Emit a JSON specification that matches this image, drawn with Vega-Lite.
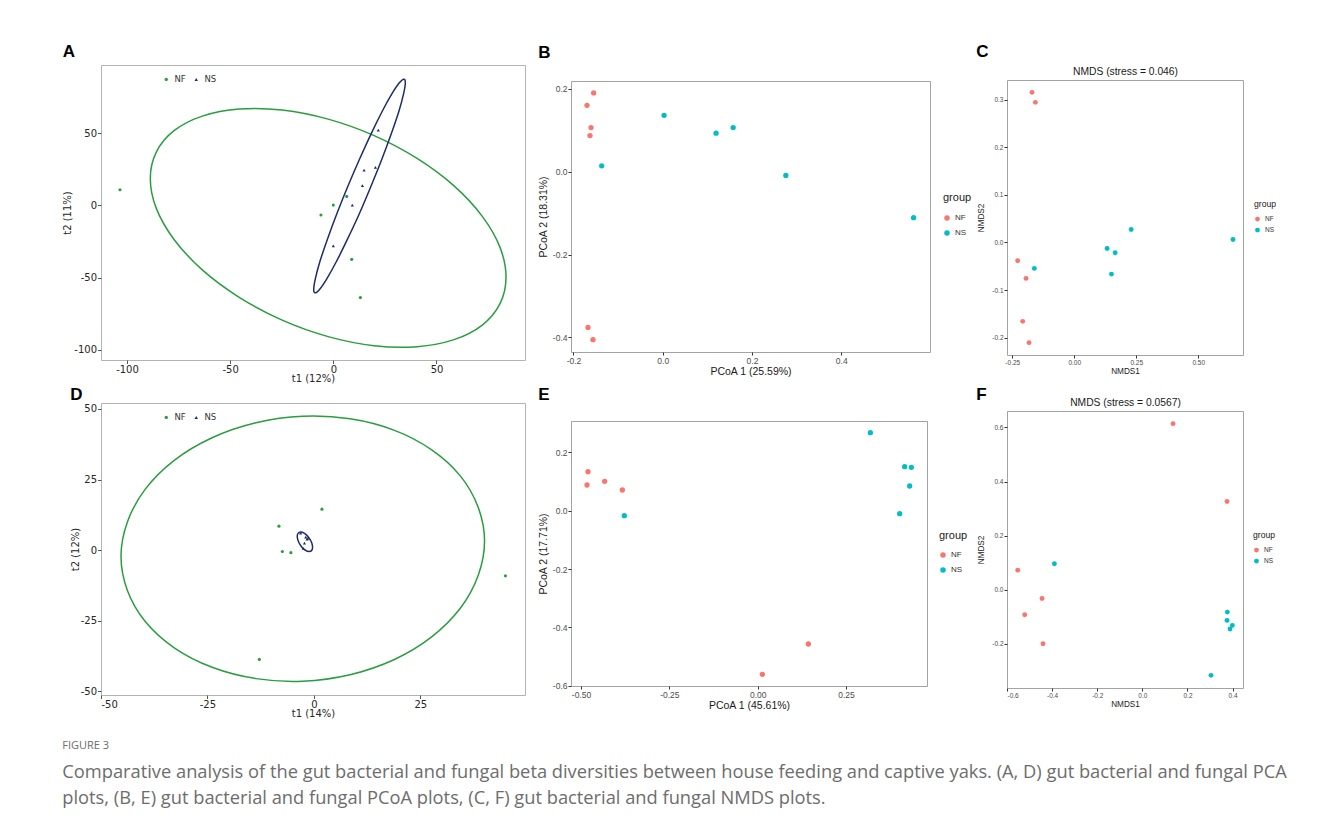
{
  "$schema": "https://vega.github.io/schema/vega-lite/v6.json",
  "background": "white",
  "padding": {"left": 62, "top": 42, "right": 10, "bottom": 10},
  "title": {
    "text": "FIGURE 3",
    "subtitle": [
      "Comparative analysis of the gut bacterial and fungal beta diversities between house feeding and captive yaks. (A, D) gut bacterial and fungal PCA",
      "plots, (B, E) gut bacterial and fungal PCoA plots, (C, F) gut bacterial and fungal NMDS plots."
    ],
    "orient": "bottom",
    "anchor": "start",
    "font": "Open Sans",
    "fontSize": 11,
    "fontWeight": "normal",
    "color": "#6d6d6d",
    "subtitleFont": "Open Sans",
    "subtitleFontSize": 18.3,
    "subtitleColor": "#6d6d6d",
    "subtitleLineHeight": 26,
    "subtitlePadding": 13,
    "offset": 21
  },
  "datasets": {
    "A_pts": [
      {"group": "NF", "x": -103.4, "y": 10.8},
      {"group": "NF", "x": 0, "y": 0.2},
      {"group": "NF", "x": 6.5, "y": 6.2},
      {"group": "NF", "x": -6.0, "y": -6.7},
      {"group": "NF", "x": 8.9, "y": -37.4},
      {"group": "NF", "x": 13.1, "y": -63.9},
      {"group": "NS", "x": 21.8, "y": 52.1},
      {"group": "NS", "x": 14.9, "y": 24.4},
      {"group": "NS", "x": 20.4, "y": 26.3},
      {"group": "NS", "x": 14.1, "y": 13.6},
      {"group": "NS", "x": 9.2, "y": 0.2},
      {"group": "NS", "x": 0, "y": -28.0}
    ],
    "A_ell": [
      {"group": "NF", "i": 0, "x": 83.7, "y": -49.8},
      {"group": "NF", "i": 1, "x": 80.8, "y": -29.1},
      {"group": "NF", "i": 2, "x": 72.2, "y": -7.6},
      {"group": "NF", "i": 3, "x": 58.5, "y": 13.5},
      {"group": "NF", "i": 4, "x": 40.6, "y": 32.5},
      {"group": "NF", "i": 5, "x": 19.8, "y": 48.3},
      {"group": "NF", "i": 6, "x": -2.5, "y": 59.7},
      {"group": "NF", "i": 7, "x": -24.8, "y": 66.0},
      {"group": "NF", "i": 8, "x": -45.6, "y": 66.7},
      {"group": "NF", "i": 9, "x": -63.5, "y": 61.8},
      {"group": "NF", "i": 10, "x": -77.2, "y": 51.7},
      {"group": "NF", "i": 11, "x": -85.8, "y": 36.9},
      {"group": "NF", "i": 12, "x": -88.7, "y": 18.6},
      {"group": "NF", "i": 13, "x": -85.8, "y": -2.1},
      {"group": "NF", "i": 14, "x": -77.2, "y": -23.6},
      {"group": "NF", "i": 15, "x": -63.5, "y": -44.7},
      {"group": "NF", "i": 16, "x": -45.6, "y": -63.7},
      {"group": "NF", "i": 17, "x": -24.8, "y": -79.5},
      {"group": "NF", "i": 18, "x": -2.5, "y": -90.9},
      {"group": "NF", "i": 19, "x": 19.8, "y": -97.2},
      {"group": "NF", "i": 20, "x": 40.6, "y": -97.9},
      {"group": "NF", "i": 21, "x": 58.5, "y": -93.0},
      {"group": "NF", "i": 22, "x": 72.2, "y": -82.9},
      {"group": "NF", "i": 23, "x": 80.8, "y": -68.1},
      {"group": "NS", "i": 0, "x": 34.2, "y": 87.4},
      {"group": "NS", "i": 1, "x": 34.9, "y": 84.9},
      {"group": "NS", "i": 2, "x": 34.1, "y": 77.5},
      {"group": "NS", "i": 3, "x": 31.9, "y": 65.7},
      {"group": "NS", "i": 4, "x": 28.3, "y": 50.4},
      {"group": "NS", "i": 5, "x": 23.7, "y": 32.6},
      {"group": "NS", "i": 6, "x": 18.3, "y": 13.4},
      {"group": "NS", "i": 7, "x": 12.6, "y": -5.8},
      {"group": "NS", "i": 8, "x": 6.8, "y": -23.6},
      {"group": "NS", "i": 9, "x": 1.5, "y": -38.9},
      {"group": "NS", "i": 10, "x": -3.1, "y": -50.7},
      {"group": "NS", "i": 11, "x": -6.6, "y": -58.1},
      {"group": "NS", "i": 12, "x": -8.8, "y": -60.6},
      {"group": "NS", "i": 13, "x": -9.5, "y": -58.1},
      {"group": "NS", "i": 14, "x": -8.7, "y": -50.7},
      {"group": "NS", "i": 15, "x": -6.5, "y": -38.9},
      {"group": "NS", "i": 16, "x": -2.9, "y": -23.6},
      {"group": "NS", "i": 17, "x": 1.7, "y": -5.8},
      {"group": "NS", "i": 18, "x": 7.1, "y": 13.4},
      {"group": "NS", "i": 19, "x": 12.9, "y": 32.6},
      {"group": "NS", "i": 20, "x": 18.6, "y": 50.4},
      {"group": "NS", "i": 21, "x": 23.9, "y": 65.7},
      {"group": "NS", "i": 22, "x": 28.5, "y": 77.5},
      {"group": "NS", "i": 23, "x": 32.0, "y": 84.9}
    ],
    "D_pts": [
      {"group": "NF", "x": -8.2, "y": 8.5},
      {"group": "NF", "x": 1.9, "y": 14.5},
      {"group": "NF", "x": -7.4, "y": -0.5},
      {"group": "NF", "x": -5.4, "y": -0.9},
      {"group": "NF", "x": -12.8, "y": -38.7},
      {"group": "NF", "x": 45.0, "y": -9.1},
      {"group": "NS", "x": -3.1, "y": 6.0},
      {"group": "NS", "x": -1.9, "y": 4.6},
      {"group": "NS", "x": -1.6, "y": 3.9},
      {"group": "NS", "x": -1.4, "y": 4.2},
      {"group": "NS", "x": -2.5, "y": 0.6},
      {"group": "NS", "x": -2.2, "y": 2.5}
    ],
    "D_ell": [
      {"group": "NF", "i": 0, "x": 40.1, "y": 3.2},
      {"group": "NF", "i": 1, "x": 38.6, "y": 15.2},
      {"group": "NF", "i": 2, "x": 34.4, "y": 26.3},
      {"group": "NF", "i": 3, "x": 27.6, "y": 35.6},
      {"group": "NF", "i": 4, "x": 18.8, "y": 42.5},
      {"group": "NF", "i": 5, "x": 8.5, "y": 46.5},
      {"group": "NF", "i": 6, "x": -2.6, "y": 47.4},
      {"group": "NF", "i": 7, "x": -13.6, "y": 45.1},
      {"group": "NF", "i": 8, "x": -23.9, "y": 39.8},
      {"group": "NF", "i": 9, "x": -32.8, "y": 31.8},
      {"group": "NF", "i": 10, "x": -39.6, "y": 21.6},
      {"group": "NF", "i": 11, "x": -43.8, "y": 10.0},
      {"group": "NF", "i": 12, "x": -45.3, "y": -2.2},
      {"group": "NF", "i": 13, "x": -43.8, "y": -14.3},
      {"group": "NF", "i": 14, "x": -39.6, "y": -25.3},
      {"group": "NF", "i": 15, "x": -32.8, "y": -34.6},
      {"group": "NF", "i": 16, "x": -23.9, "y": -41.5},
      {"group": "NF", "i": 17, "x": -13.6, "y": -45.5},
      {"group": "NF", "i": 18, "x": -2.6, "y": -46.4},
      {"group": "NF", "i": 19, "x": 8.5, "y": -44.1},
      {"group": "NF", "i": 20, "x": 18.8, "y": -38.8},
      {"group": "NF", "i": 21, "x": 27.6, "y": -30.8},
      {"group": "NF", "i": 22, "x": 34.4, "y": -20.6},
      {"group": "NF", "i": 23, "x": 38.6, "y": -9.0},
      {"group": "NS", "i": 0, "x": -3.1, "y": 6.4},
      {"group": "NS", "i": 1, "x": -2.2, "y": 5.94},
      {"group": "NS", "i": 2, "x": -1.3, "y": 4.68},
      {"group": "NS", "i": 3, "x": -0.6, "y": 2.95},
      {"group": "NS", "i": 4, "x": -0.3, "y": 1.23},
      {"group": "NS", "i": 5, "x": -0.48, "y": -0.04},
      {"group": "NS", "i": 6, "x": -1.1, "y": -0.5},
      {"group": "NS", "i": 7, "x": -1.98, "y": -0.04},
      {"group": "NS", "i": 8, "x": -2.9, "y": 1.23},
      {"group": "NS", "i": 9, "x": -3.6, "y": 2.95},
      {"group": "NS", "i": 10, "x": -3.9, "y": 4.68},
      {"group": "NS", "i": 11, "x": -3.72, "y": 5.94}
    ],
    "B": [
      {"group": "NF", "x": -0.1548, "y": 0.1904},
      {"group": "NF", "x": -0.1697, "y": 0.1606},
      {"group": "NF", "x": -0.1607, "y": 0.1068},
      {"group": "NF", "x": -0.163, "y": 0.0876},
      {"group": "NF", "x": -0.1675, "y": -0.3759},
      {"group": "NF", "x": -0.1563, "y": -0.4056},
      {"group": "NS", "x": 0.003, "y": 0.1365},
      {"group": "NS", "x": -0.1368, "y": 0.0145},
      {"group": "NS", "x": 0.1196, "y": 0.0932},
      {"group": "NS", "x": 0.1578, "y": 0.1068},
      {"group": "NS", "x": 0.2759, "y": -0.0088},
      {"group": "NS", "x": 0.5622, "y": -0.1108}
    ],
    "C": [
      {"group": "NF", "x": -0.1703, "y": 0.3154},
      {"group": "NF", "x": -0.1569, "y": 0.2944},
      {"group": "NF", "x": -0.2282, "y": -0.0385},
      {"group": "NF", "x": -0.1946, "y": -0.0755},
      {"group": "NF", "x": -0.208, "y": -0.1657},
      {"group": "NF", "x": -0.1824, "y": -0.2105},
      {"group": "NS", "x": -0.161, "y": -0.0545},
      {"group": "NS", "x": 0.1326, "y": -0.0126},
      {"group": "NS", "x": 0.1649, "y": -0.0217},
      {"group": "NS", "x": 0.2295, "y": 0.0273},
      {"group": "NS", "x": 0.1501, "y": -0.0664},
      {"group": "NS", "x": 0.6402, "y": 0.0063}
    ],
    "E": [
      {"group": "NF", "x": -0.4802, "y": 0.1337},
      {"group": "NF", "x": -0.483, "y": 0.088},
      {"group": "NF", "x": -0.433, "y": 0.1006},
      {"group": "NF", "x": -0.383, "y": 0.0709},
      {"group": "NF", "x": 0.0132, "y": -0.5611},
      {"group": "NF", "x": 0.1434, "y": -0.4571},
      {"group": "NS", "x": -0.3774, "y": -0.0171},
      {"group": "NS", "x": 0.3189, "y": 0.2674},
      {"group": "NS", "x": 0.416, "y": 0.1509},
      {"group": "NS", "x": 0.4349, "y": 0.1486},
      {"group": "NS", "x": 0.4302, "y": 0.0846},
      {"group": "NS", "x": 0.4019, "y": -0.0103}
    ],
    "F": [
      {"group": "NF", "x": 0.1359, "y": 0.6142},
      {"group": "NF", "x": 0.3752, "y": 0.3262},
      {"group": "NF", "x": -0.5524, "y": 0.0726},
      {"group": "NF", "x": -0.4446, "y": -0.032},
      {"group": "NF", "x": -0.5214, "y": -0.0923},
      {"group": "NF", "x": -0.4402, "y": -0.1994},
      {"group": "NS", "x": -0.39, "y": 0.096},
      {"group": "NS", "x": 0.3767, "y": -0.0825},
      {"group": "NS", "x": 0.3752, "y": -0.1132},
      {"group": "NS", "x": 0.3988, "y": -0.1317},
      {"group": "NS", "x": 0.3885, "y": -0.1452},
      {"group": "NS", "x": 0.3043, "y": -0.3163}
    ]
  },
  "spacing": 11,
  "resolve": {"scale": {"color": "independent", "shape": "independent"}, "legend": {"color": "independent", "shape": "independent"}},
  "hconcat": [
    {
      "vconcat": [
        {
          "title": {"text": "A", "anchor": "start", "font": "Liberation Sans", "fontSize": 17, "fontWeight": "bold", "color": "#000000", "offset": 4},
          "width": 424,
          "height": 295,
          "view": {"stroke": "#b3b3b3"},
          "layer": [
            {
              "mark": {"type": "rule", "color": "#555555", "strokeWidth": 1.2},
              "encoding": {"x": {"datum": 0, "type": "quantitative", "scale": {"domain": [-112.6, 92.9], "nice": false, "zero": false}}}
            },
            {
              "mark": {"type": "rule", "color": "#555555", "strokeWidth": 1.2},
              "encoding": {"y": {"datum": 0, "type": "quantitative", "scale": {"domain": [-107.1, 97.2], "nice": false, "zero": false}}}
            },
            {
              "data": {"name": "A_ell"},
              "transform": [{"filter": "datum.group == 'NF'"}],
              "mark": {"type": "line", "interpolate": "cardinal-closed", "strokeWidth": 1.5, "color": "#2a9d3f"},
              "encoding": {
                "x": {"field": "x", "type": "quantitative", "title": "t1 (12%)", "scale": {"domain": [-112.6, 92.9], "nice": false, "zero": false}},
                "y": {"field": "y", "type": "quantitative", "title": "t2 (11%)", "scale": {"domain": [-107.1, 97.2], "nice": false, "zero": false}},
                "order": {"field": "i", "type": "quantitative"}
              }
            },
            {
              "data": {"name": "A_ell"},
              "transform": [{"filter": "datum.group == 'NS'"}],
              "mark": {"type": "line", "interpolate": "cardinal-closed", "strokeWidth": 1.5, "color": "#1e2c6c"},
              "encoding": {
                "x": {"field": "x", "type": "quantitative", "title": "t1 (12%)", "scale": {"domain": [-112.6, 92.9], "nice": false, "zero": false}},
                "y": {"field": "y", "type": "quantitative", "title": "t2 (11%)", "scale": {"domain": [-107.1, 97.2], "nice": false, "zero": false}},
                "order": {"field": "i", "type": "quantitative"}
              }
            },
            {
              "data": {"name": "A_pts"},
              "mark": {"type": "point", "filled": true, "size": 10, "opacity": 1},
              "encoding": {
                "x": {"field": "x", "type": "quantitative", "title": "t1 (12%)", "scale": {"domain": [-112.6, 92.9], "nice": false, "zero": false},
                  "axis": {"values": [-100, -50, 0, 50], "labelFont": "DejaVu Sans", "titleFont": "DejaVu Sans", "labelFontSize": 10, "titleFontSize": 10, "labelColor": "#262626", "titleColor": "#262626", "tickColor": "#555555", "tickSize": 3.5, "labelPadding": 1, "titlePadding": -1}},
                "y": {"field": "y", "type": "quantitative", "title": "t2 (11%)", "scale": {"domain": [-107.1, 97.2], "nice": false, "zero": false},
                  "axis": {"values": [-100, -50, 0, 50], "labelFont": "DejaVu Sans", "titleFont": "DejaVu Sans", "labelFontSize": 10, "titleFontSize": 10, "labelColor": "#262626", "titleColor": "#262626", "tickColor": "#555555", "tickSize": 3.5, "labelPadding": 1, "titlePadding": 1}},
                "color": {"field": "group", "type": "nominal", "scale": {"domain": ["NF", "NS"], "range": ["#2a9d3f", "#1e2c6c"]},
                  "legend": {"title": null, "orient": "none", "legendX": 61, "legendY": 10, "direction": "horizontal", "labelFont": "DejaVu Sans", "labelFontSize": 8.5, "labelColor": "#333333", "symbolSize": 12, "columnPadding": 6}},
                "shape": {"field": "group", "type": "nominal", "scale": {"domain": ["NF", "NS"], "range": ["circle", "triangle-up"]}}
              }
            }
          ]
        },
        {
          "title": {"text": "D", "anchor": "start", "font": "Liberation Sans", "fontSize": 17, "fontWeight": "bold", "color": "#000000", "offset": -1},
          "width": 424,
          "height": 292,
          "view": {"stroke": "#b3b3b3"},
          "layer": [
            {
              "mark": {"type": "rule", "color": "#555555", "strokeWidth": 1.2},
              "encoding": {"x": {"datum": 0, "type": "quantitative", "scale": {"domain": [-50, 49.6], "nice": false, "zero": false}}}
            },
            {
              "mark": {"type": "rule", "color": "#555555", "strokeWidth": 1.2},
              "encoding": {"y": {"datum": 0, "type": "quantitative", "scale": {"domain": [-51.3, 52.1], "nice": false, "zero": false}}}
            },
            {
              "data": {"name": "D_ell"},
              "transform": [{"filter": "datum.group == 'NF'"}],
              "mark": {"type": "line", "interpolate": "cardinal-closed", "strokeWidth": 1.5, "color": "#2a9d3f"},
              "encoding": {
                "x": {"field": "x", "type": "quantitative", "title": "t1 (14%)", "scale": {"domain": [-50, 49.6], "nice": false, "zero": false}},
                "y": {"field": "y", "type": "quantitative", "title": "t2 (12%)", "scale": {"domain": [-51.3, 52.1], "nice": false, "zero": false}},
                "order": {"field": "i", "type": "quantitative"}
              }
            },
            {
              "data": {"name": "D_ell"},
              "transform": [{"filter": "datum.group == 'NS'"}],
              "mark": {"type": "line", "interpolate": "cardinal-closed", "strokeWidth": 1.5, "color": "#1e2c6c"},
              "encoding": {
                "x": {"field": "x", "type": "quantitative", "title": "t1 (14%)", "scale": {"domain": [-50, 49.6], "nice": false, "zero": false}},
                "y": {"field": "y", "type": "quantitative", "title": "t2 (12%)", "scale": {"domain": [-51.3, 52.1], "nice": false, "zero": false}},
                "order": {"field": "i", "type": "quantitative"}
              }
            },
            {
              "data": {"name": "D_pts"},
              "mark": {"type": "point", "filled": true, "size": 10, "opacity": 1},
              "encoding": {
                "x": {"field": "x", "type": "quantitative", "title": "t1 (14%)", "scale": {"domain": [-50, 49.6], "nice": false, "zero": false},
                  "axis": {"values": [-50, -25, 0, 25], "labelFont": "DejaVu Sans", "titleFont": "DejaVu Sans", "labelFontSize": 10, "titleFontSize": 10, "labelColor": "#262626", "titleColor": "#262626", "tickColor": "#555555", "tickSize": 3.5, "labelPadding": 1, "titlePadding": -1}},
                "y": {"field": "y", "type": "quantitative", "title": "t2 (12%)", "scale": {"domain": [-51.3, 52.1], "nice": false, "zero": false},
                  "axis": {"values": [-50, -25, 0, 25, 50], "labelFont": "DejaVu Sans", "titleFont": "DejaVu Sans", "labelFontSize": 10, "titleFontSize": 10, "labelColor": "#262626", "titleColor": "#262626", "tickColor": "#555555", "tickSize": 3.5, "labelPadding": 1, "titlePadding": 0}},
                "color": {"field": "group", "type": "nominal", "scale": {"domain": ["NF", "NS"], "range": ["#2a9d3f", "#1e2c6c"]},
                  "legend": {"title": null, "orient": "none", "legendX": 61, "legendY": 10, "direction": "horizontal", "labelFont": "DejaVu Sans", "labelFontSize": 8.5, "labelColor": "#333333", "symbolSize": 12, "columnPadding": 6}},
                "shape": {"field": "group", "type": "nominal", "scale": {"domain": ["NF", "NS"], "range": ["circle", "triangle-up"]}}
              }
            }
          ]
        }
      ],
      "spacing": 43,
      "bounds": "flush",
      "resolve": {"scale": {"color": "independent", "shape": "independent"}, "legend": {"color": "independent", "shape": "independent"}}
    },
    {
      "spacing": 2,
      "resolve": {"scale": {"color": "independent"}, "legend": {"color": "independent"}},
      "hconcat": [
        {
          "vconcat": [
            {"width": 356, "height": 16, "data": {"values": []}, "mark": "point", "view": {"stroke": null}},
            {
              "title": {"text": "B", "anchor": "start", "font": "Liberation Sans", "fontSize": 17, "fontWeight": "bold", "color": "#000000", "offset": 19},
              "width": 359,
              "height": 271,
              "data": {"name": "B"},
              "mark": {"type": "circle", "size": 28, "opacity": 1},
              "encoding": {
                "x": {"field": "x", "type": "quantitative", "scale": {"domain": [-0.2056, 0.599], "nice": false, "zero": false},
                  "axis": {"values": [-0.2, 0, 0.2, 0.4, 0.6], "format": ".1f", "title": "PCoA 1 (25.59%)", "labelFontSize": 8.5, "titleFontSize": 10.5, "labelPadding": 1, "titlePadding": 2}},
                "y": {"field": "y", "type": "quantitative", "scale": {"domain": [-0.4353, 0.2193], "nice": false, "zero": false},
                  "axis": {"values": [-0.4, -0.2, 0, 0.2], "format": ".1f", "title": "PCoA 2 (18.31%)", "labelFontSize": 8.5, "titleFontSize": 10.5, "labelPadding": 1, "titlePadding": 4}},
                "color": {"field": "group", "type": "nominal", "scale": {"domain": ["NF", "NS"], "range": ["#F8766D", "#00BFC4"]},
                  "legend": {"title": "group", "orient": "none", "legendX": 372, "legendY": 111, "titleFontSize": 11, "labelFontSize": 8, "symbolSize": 30, "rowPadding": 7, "titlePadding": 11}}
              }
            },
            {"width": 356, "height": 69, "data": {"values": []}, "mark": "point", "view": {"stroke": null}},
            {
              "title": {"text": "E", "anchor": "start", "font": "Liberation Sans", "fontSize": 17, "fontWeight": "bold", "color": "#000000", "offset": 17},
              "width": 356,
              "height": 265,
              "data": {"name": "E"},
              "mark": {"type": "circle", "size": 28, "opacity": 1},
              "encoding": {
                "x": {"field": "x", "type": "quantitative", "scale": {"domain": [-0.5283, 0.4792], "nice": false, "zero": false},
                  "axis": {"values": [-0.5, -0.25, 0, 0.25], "format": ".2f", "title": "PCoA 1 (45.61%)", "labelFontSize": 8.5, "titleFontSize": 10.5, "labelPadding": 1, "titlePadding": 2}},
                "y": {"field": "y", "type": "quantitative", "scale": {"domain": [-0.6011, 0.3074], "nice": false, "zero": false},
                  "axis": {"values": [-0.6, -0.4, -0.2, 0, 0.2], "format": ".1f", "title": "PCoA 2 (17.71%)", "labelFontSize": 8.5, "titleFontSize": 10.5, "labelPadding": 1, "titlePadding": 4}},
                "color": {"field": "group", "type": "nominal", "scale": {"domain": ["NF", "NS"], "range": ["#F8766D", "#00BFC4"]},
                  "legend": {"title": "group", "orient": "none", "legendX": 368, "legendY": 109, "titleFontSize": 11, "labelFontSize": 8, "symbolSize": 30, "rowPadding": 7, "titlePadding": 10}}
              }
            }
          ],
          "spacing": 0,
          "bounds": "flush",
          "resolve": {"scale": {"color": "independent"}, "legend": {"color": "independent"}}
        },
        {
          "vconcat": [
            {"width": 236, "height": 15, "data": {"values": []}, "mark": "point", "view": {"stroke": null}},
            {
              "title": {"text": "C", "anchor": "start", "font": "Liberation Sans", "fontSize": 17, "fontWeight": "bold", "color": "#000000", "offset": 5},
              "width": 236,
              "height": 275,
              "data": {"name": "C"},
              "resolve": {"axis": {"x": "independent"}},
              "layer": [
                {
                  "mark": {"type": "circle", "size": 24, "opacity": 1},
                  "encoding": {
                    "x": {"field": "x", "type": "quantitative", "scale": {"domain": [-0.2713, 0.6806], "nice": false, "zero": false},
                      "axis": {"values": [-0.25, 0, 0.25, 0.5], "format": ".2f", "title": "NMDS1", "labelFontSize": 6.5, "titleFontSize": 8.2, "labelPadding": 1, "titlePadding": 2}},
                    "y": {"field": "y", "type": "quantitative", "title": "NMDS2", "scale": {"domain": [-0.2364, 0.3413], "nice": false, "zero": false},
                      "axis": {"values": [-0.2, -0.1, 0, 0.1, 0.2, 0.3], "format": ".1f", "labelFontSize": 6.5, "titleFontSize": 8.2, "labelPadding": 1, "titlePadding": 6.5}},
                    "color": {"field": "group", "type": "nominal", "scale": {"domain": ["NF", "NS"], "range": ["#F8766D", "#00BFC4"]},
                      "legend": {"title": "group", "orient": "none", "legendX": 247, "legendY": 120, "titleFontSize": 8.6, "labelFontSize": 6.5, "symbolSize": 24, "rowPadding": 4, "titlePadding": 7}}
                  }
                },
                {
                  "mark": {"type": "circle", "size": 24, "opacity": 0},
                  "encoding": {
                    "x": {"field": "x", "type": "quantitative", "scale": {"domain": [-0.2713, 0.6806], "nice": false, "zero": false},
                      "axis": {"orient": "top", "title": "NMDS (stress = 0.046)", "labels": false, "ticks": false, "domain": false, "tickSize": 0, "labelPadding": 0, "titlePadding": 4, "titleFontSize": 10.3, "titleColor": "#1a1a1a"}},
                    "y": {"field": "y", "type": "quantitative", "title": "NMDS2", "scale": {"domain": [-0.2364, 0.3413], "nice": false, "zero": false}}
                  }
                }
              ]
            },
            {"width": 236, "height": 56, "data": {"values": []}, "mark": "point", "view": {"stroke": null}},
            {
              "title": {"text": "F", "anchor": "start", "font": "Liberation Sans", "fontSize": 17, "fontWeight": "bold", "color": "#000000", "offset": -7},
              "width": 236,
              "height": 277,
              "data": {"name": "F"},
              "resolve": {"axis": {"x": "independent"}},
              "layer": [
                {
                  "mark": {"type": "circle", "size": 24, "opacity": 1},
                  "encoding": {
                    "x": {"field": "x", "type": "quantitative", "scale": {"domain": [-0.6, 0.446], "nice": false, "zero": false},
                      "axis": {"values": [-0.6, -0.4, -0.2, 0, 0.2, 0.4], "format": ".1f", "title": "NMDS1", "labelFontSize": 6.5, "titleFontSize": 8.2, "labelPadding": 1, "titlePadding": 2}},
                    "y": {"field": "y", "type": "quantitative", "title": "NMDS2", "scale": {"domain": [-0.3631, 0.6609], "nice": false, "zero": false},
                      "axis": {"values": [-0.2, 0, 0.2, 0.4, 0.6], "format": ".1f", "labelFontSize": 6.5, "titleFontSize": 8.2, "labelPadding": 1, "titlePadding": 6.5}},
                    "color": {"field": "group", "type": "nominal", "scale": {"domain": ["NF", "NS"], "range": ["#F8766D", "#00BFC4"]},
                      "legend": {"title": "group", "orient": "none", "legendX": 246, "legendY": 120, "titleFontSize": 8.6, "labelFontSize": 6.5, "symbolSize": 24, "rowPadding": 4, "titlePadding": 7}}
                  }
                },
                {
                  "mark": {"type": "circle", "size": 24, "opacity": 0},
                  "encoding": {
                    "x": {"field": "x", "type": "quantitative", "scale": {"domain": [-0.6, 0.446], "nice": false, "zero": false},
                      "axis": {"orient": "top", "title": "NMDS (stress = 0.0567)", "labels": false, "ticks": false, "domain": false, "tickSize": 0, "labelPadding": 0, "titlePadding": 4, "titleFontSize": 10.3, "titleColor": "#1a1a1a"}},
                    "y": {"field": "y", "type": "quantitative", "title": "NMDS2", "scale": {"domain": [-0.3631, 0.6609], "nice": false, "zero": false}}
                  }
                }
              ]
            }
          ],
          "spacing": 0,
          "bounds": "flush",
          "resolve": {"scale": {"color": "independent"}, "legend": {"color": "independent"}}
        }
      ]
    }
  ],
  "config": {
    "view": {"stroke": "#a3a3a3"},
    "axis": {
      "grid": false,
      "domain": false,
      "ticks": true,
      "tickColor": "#333333",
      "tickSize": 3,
      "labelColor": "#4d4d4d",
      "labelFont": "Liberation Sans",
      "titleFont": "Liberation Sans",
      "titleFontWeight": "normal",
      "titleColor": "#1a1a1a",
      "labelExpr": "replace(datum.label, '\u2212', '-')"
    },
    "legend": {
      "labelFont": "Liberation Sans",
      "titleFont": "Liberation Sans",
      "titleFontWeight": "normal",
      "titleColor": "#1a1a1a",
      "labelColor": "#333333"
    }
  }
}
